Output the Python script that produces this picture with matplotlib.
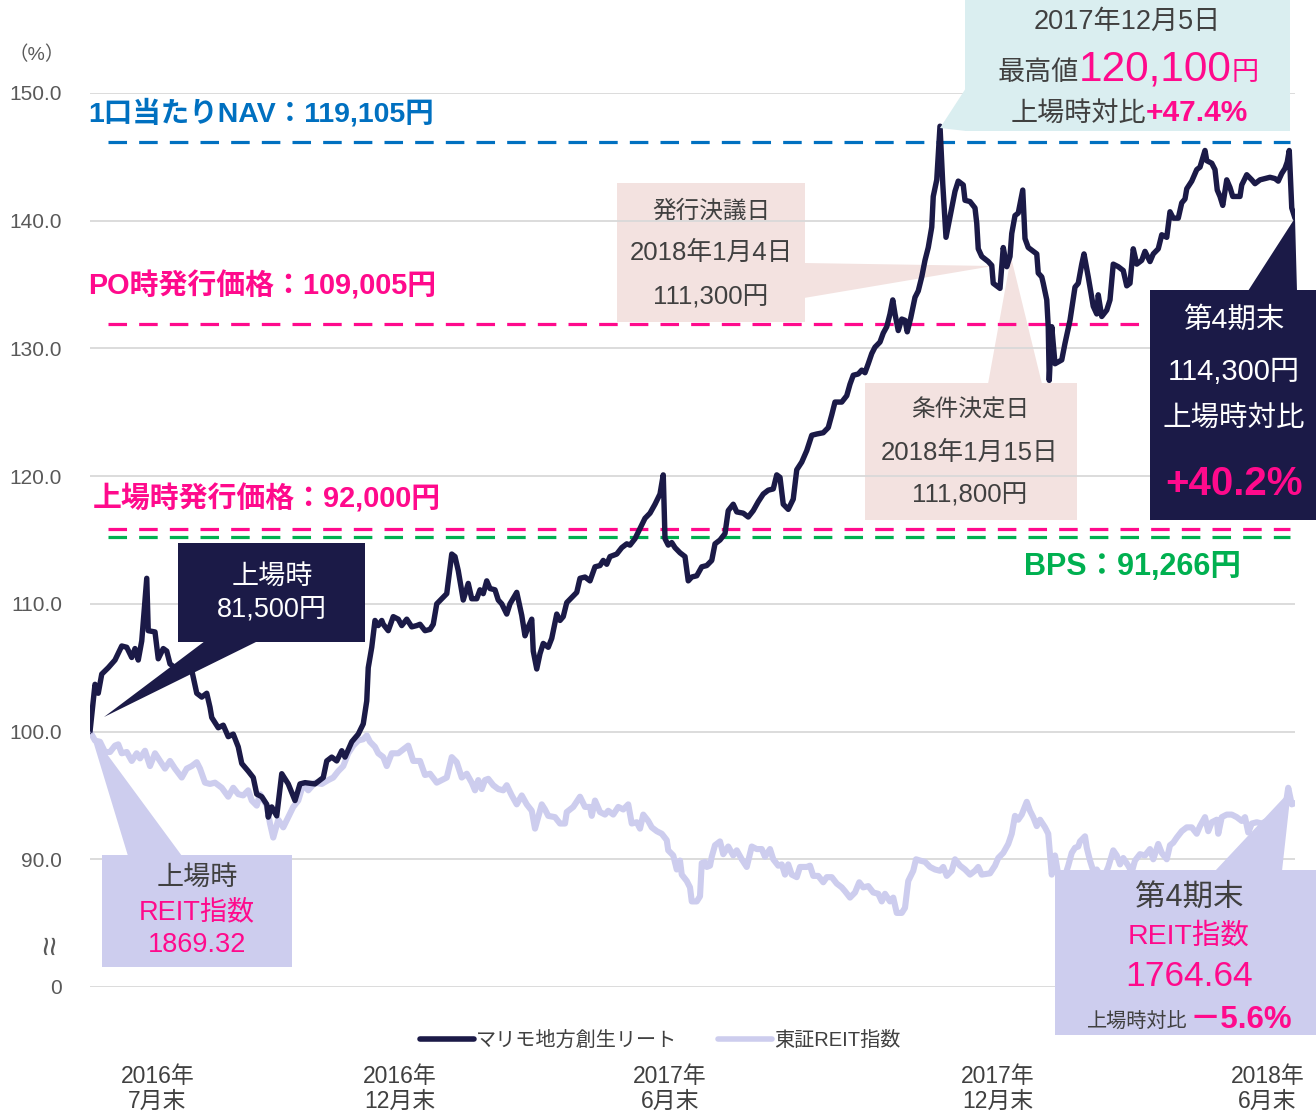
import matplotlib
matplotlib.use('Agg')
import matplotlib.pyplot as plt
from matplotlib.patches import Rectangle, Polygon
from matplotlib.lines import Line2D

W, H = 1316, 1114
plt.rcParams['font.family'] = ['Liberation Sans', 'Noto Sans CJK JP', 'DejaVu Sans']

# ---------------- data (index: 100 = listing day) ----------------
marimo_day = [0.0, 2.0, 3.3, 4.7, 7.3, 10.0, 12.7, 14.7, 16.7, 18.0, 19.3, 20.7, 22.7, 23.3, 26.0, 27.3,
              29.3, 30.7, 32.0, 34.0, 38.0, 40.7, 42.7, 44.7, 46.7, 48.0, 48.7, 51.3, 53.3, 55.3, 57.3,
              59.3, 60.7, 63.3, 65.3, 66.7, 68.7, 70.7, 71.3, 72.7, 74.7, 76.7, 79.3, 82.0, 84.0, 86.0,
              90.0, 93.3, 94.7, 96.7, 98.7, 100.7, 102.0, 104.7, 107.3, 109.3, 110.7, 111.3, 112.7, 114.0,
              115.3, 116.7, 117.3, 119.3, 121.3, 123.3, 124.7, 126.7, 128.7, 130.7, 132.0, 134.0, 136.0,
              137.3, 138.7, 140.7, 142.7, 144.7, 146.0, 147.3, 149.3, 151.3, 152.7, 154.7, 156.0, 157.3,
              158.7, 160.0, 162.0, 163.3, 164.7, 166.7, 168.0, 170.7, 172.7, 174.0, 175.3, 176.7, 177.3,
              178.7, 180.0, 181.3, 183.3, 184.7, 186.7, 188.0, 189.3, 190.7, 192.7, 194.7, 196.0, 198.0,
              200.0, 202.0, 204.0, 205.3, 206.7, 208.0, 210.7, 212.7, 214.7, 216.0, 218.0, 220.0, 222.0,
              224.0, 226.0, 228.0, 229.3, 230.0, 231.3, 232.7, 234.0, 236.0, 238.0, 239.3, 240.7, 242.7,
              244.7, 246.7, 248.7, 250.0, 252.0, 254.0, 255.3, 257.3, 258.7, 261.3, 263.3, 265.3, 267.3,
              269.3, 271.3, 273.3, 274.7, 276.0, 277.3, 279.3, 281.3, 282.7, 284.7, 286.7, 288.7, 290.7,
              293.3, 295.3, 296.7, 298.0, 300.7, 302.7, 304.0, 305.3, 307.3, 308.7, 310.0, 311.3, 312.7,
              314.0, 316.0, 317.3, 318.7, 320.0, 321.1, 322.0, 323.3, 324.7, 326.0, 326.9, 328.3, 330.0,
              331.3, 332.7, 334.0, 335.3, 336.7, 337.3, 338.7, 340.0, 341.1, 342.4, 344.0, 346.0, 347.3,
              349.3, 350.0, 352.0, 354.0, 354.7, 355.3, 356.7, 359.3, 360.7, 361.3, 364.0, 365.3, 366.7,
              368.0, 368.7, 370.0, 371.3, 373.1, 374.0, 375.3, 377.3, 378.7, 379.3, 380.7, 381.3, 382.7,
              383.3, 383.7, 384.7, 386.0, 388.7, 390.0, 392.0, 394.0, 395.3, 396.7, 397.6, 399.3, 401.3,
              402.7, 403.3, 404.7, 406.7, 408.0, 409.3, 411.3, 413.3, 414.7, 416.0, 417.3, 418.7, 420.7,
              422.0, 424.0, 425.3, 427.3, 428.7, 430.7, 432.0, 433.3, 435.3, 436.7, 438.0, 438.7, 440.7,
              442.7, 444.0, 446.0, 446.7, 448.7, 450.0, 450.9, 452.0, 453.1, 454.7, 456.0, 457.1, 460.0,
              460.7, 462.7, 464.7, 466.0, 468.0, 470.0, 472.0, 474.0, 475.3, 476.7, 478.0, 478.9, 479.7,
              480.7, 482.0]
marimo_val = [100.0, 103.7, 103.0, 104.5, 105.0, 105.6, 106.7, 106.6, 105.8, 106.5, 105.6, 107.1, 112.0, 107.9, 107.8, 105.7,
              106.5, 106.3, 105.3, 105.0, 105.0, 104.8, 103.0, 102.7, 103.0, 101.9, 101.1, 100.3, 100.5, 99.6, 99.8,
              98.8, 97.5, 96.9, 96.4, 95.1, 94.9, 94.3, 93.3, 94.1, 93.4, 96.7, 95.9, 94.6, 95.9, 96.0,
              95.9, 96.4, 97.7, 98.0, 97.7, 98.5, 98.0, 99.2, 99.8, 100.6, 102.4, 105.0, 106.6, 108.7,
              108.3, 108.7, 108.4, 107.9, 109.0, 108.8, 108.3, 108.8, 108.2, 108.3, 108.4, 107.9, 108.0,
              108.4, 110.0, 110.4, 110.8, 113.9, 113.7, 112.6, 110.3, 111.6, 110.4, 110.4, 111.1, 110.8,
              111.8, 111.2, 111.1, 110.3, 110.0, 109.2, 110.0, 110.9, 109.1, 107.5, 108.2, 108.8, 106.3,
              104.9, 106.1, 106.9, 106.6, 107.3, 109.2, 108.7, 109.0, 110.1, 110.5, 110.9, 112.0, 112.1,
              111.8, 112.9, 113.0, 113.4, 113.1, 113.7, 113.9, 114.4, 114.7, 114.6, 115.1, 115.9, 116.7,
              117.1, 117.8, 118.6, 120.1, 115.1, 114.6, 114.8, 114.4, 114.0, 113.7, 111.8, 112.1, 112.2,
              112.9, 113.0, 113.4, 114.7, 115.0, 115.5, 117.3, 117.8, 117.2, 117.1, 116.8, 117.3, 118.0,
              118.6, 118.9, 119.0, 120.1, 119.9, 117.8, 117.4, 118.2, 120.5, 121.1, 122.0, 123.2, 123.3,
              123.4, 123.8, 124.8, 125.8, 125.8, 126.3, 127.2, 127.9, 128.0, 128.3, 128.1, 128.8, 129.6,
              130.1, 130.5, 131.2, 131.7, 132.7, 133.8, 132.7, 131.4, 132.3, 132.2, 131.3, 132.4, 134.0,
              134.5, 135.6, 136.9, 137.9, 139.5, 141.9, 143.2, 147.4, 142.9, 138.7, 140.3, 142.3, 143.1,
              142.8, 141.6, 141.5, 141.0, 139.8, 137.8, 137.2, 136.8, 136.5, 135.1, 134.7, 137.9, 136.4,
              137.2, 139.0, 140.4, 140.6, 142.4, 138.6, 137.9, 137.6, 137.4, 135.9, 135.6, 135.1, 133.8,
              131.7, 127.5, 131.7, 128.8, 129.1, 130.4, 132.2, 134.8, 135.1, 136.6, 137.4, 135.6, 133.3,
              132.7, 134.2, 132.5, 133.0, 133.8, 136.6, 136.4, 136.1, 134.9, 135.1, 137.8, 136.6, 136.9,
              137.6, 136.8, 137.4, 137.8, 138.9, 138.7, 140.7, 140.2, 140.2, 141.4, 141.7, 142.5, 143.1,
              144.0, 144.2, 145.5, 144.7, 144.5, 144.0, 142.4, 141.9, 141.2, 143.2, 142.6, 141.9, 141.9,
              142.8, 143.6, 143.2, 142.9, 143.2, 143.3, 143.4, 143.3, 143.1, 143.7, 144.1, 144.6, 145.5,
              141.0, 140.2]

reit_day = [0.0, 2.0, 4.0, 6.0, 8.0, 10.0, 11.3, 12.7, 14.7, 16.7, 18.7, 20.0, 22.0, 24.0, 26.0, 28.0,
            30.0, 32.0, 34.0, 36.7, 38.7, 40.7, 42.7, 44.0, 46.0, 48.0, 50.0, 52.7, 55.3, 57.3, 59.3,
            61.3, 63.3, 64.7, 66.7, 68.0, 70.7, 72.0, 73.3, 75.3, 77.3, 79.3, 81.3, 83.3, 85.3, 87.3,
            90.0, 92.7, 95.3, 97.3, 99.3, 101.3, 103.3, 105.3, 107.3, 109.3, 110.7, 112.0, 114.0, 115.3,
            117.3, 118.7, 120.7, 123.3, 125.3, 127.3, 129.3, 132.0, 134.0, 136.0, 138.7, 140.7, 142.7,
            144.7, 146.7, 148.7, 150.7, 152.7, 154.0, 155.3, 156.7, 158.0, 159.3, 161.3, 163.3, 165.3,
            166.7, 168.7, 170.7, 172.7, 174.7, 176.7, 178.0, 179.3, 180.7, 182.0, 183.3, 186.0, 188.0,
            190.0, 190.7, 193.3, 196.0, 198.0, 200.0, 200.7, 202.0, 204.0, 206.0, 207.3, 209.3, 211.3,
            213.3, 215.3, 216.7, 218.7, 220.0, 221.3, 223.3, 224.7, 226.7, 228.7, 230.7, 231.3, 233.3,
            234.7, 236.0, 236.7, 238.7, 240.0, 240.7, 242.7, 244.0, 244.7, 246.0, 246.7, 248.0, 248.7,
            250.0, 252.0, 253.3, 255.3, 257.3, 258.7, 260.7, 262.7, 264.7, 266.7, 268.7, 270.0, 272.0,
            273.3, 275.3, 276.7, 278.0, 279.3, 280.7, 282.7, 284.0, 286.7, 288.0, 289.3, 291.3, 293.3,
            294.7, 296.7, 298.7, 300.7, 302.0, 304.0, 306.0, 307.7, 309.3, 311.3, 313.3, 315.3, 316.7,
            318.0, 320.0, 321.3, 322.7, 324.7, 326.0, 327.3, 329.3, 330.4, 332.0, 334.0, 336.0, 338.0,
            340.0, 341.3, 342.7, 344.7, 346.0, 348.0, 350.0, 352.0, 354.0, 355.3, 356.7, 360.0, 362.0,
            363.3, 365.3, 367.3, 368.7, 370.0, 371.3, 372.7, 374.7, 376.0, 377.3, 378.7, 380.0, 382.0,
            383.3, 384.0, 384.7, 386.0, 387.3, 390.0, 391.3, 392.7, 394.0, 395.3, 396.0, 398.0, 398.7,
            400.0, 401.3, 402.7, 404.0, 406.0, 407.3, 409.3, 410.7, 412.0, 413.3, 415.3, 416.7, 418.0,
            420.0, 422.0, 424.0, 425.3, 427.3, 428.7, 430.7, 432.0, 433.3, 434.7, 436.7, 438.7, 440.7,
            442.7, 444.0, 446.0, 447.3, 448.7, 450.7, 451.3, 452.7, 454.7, 456.7, 458.7, 460.7, 462.0,
            463.3, 464.7, 466.7, 468.7, 470.7, 472.7, 474.7, 476.7, 478.0, 479.3, 480.7, 482.0]
reit_val = [100.0, 99.3, 99.2, 98.4, 98.4, 98.9, 99.0, 98.3, 98.4, 97.7, 98.3, 97.9, 98.5, 97.3, 98.3, 97.7,
            97.1, 97.7, 97.1, 96.4, 97.1, 97.3, 97.6, 97.1, 96.0, 95.9, 96.0, 95.6, 94.9, 95.6, 95.1,
            95.0, 95.4, 94.6, 94.2, 95.1, 94.2, 92.8, 91.7, 93.1, 92.5, 93.3, 94.1, 94.6, 95.9, 95.4,
            96.0, 95.9, 96.2, 96.4, 96.9, 97.3, 98.3, 98.9, 99.3, 99.4, 99.7, 99.2, 98.8, 98.3,
            98.0, 97.3, 98.3, 98.3, 98.6, 98.9, 97.7, 97.7, 96.6, 96.7, 96.0, 96.2, 96.4,
            98.0, 97.6, 96.4, 96.7, 96.0, 95.4, 96.2, 95.5, 96.2, 96.3, 95.8, 95.5, 95.4,
            95.8, 95.0, 94.3, 95.0, 94.3, 93.8, 92.4, 93.3, 94.3, 93.9, 93.4, 93.3, 92.8,
            92.8, 93.7, 94.1, 94.9, 94.1, 94.1, 93.4, 94.6, 93.7, 93.5, 93.8, 93.5, 94.1,
            93.9, 94.3, 92.8, 92.9, 92.4, 93.5, 93.0, 92.5, 92.2, 92.0, 91.5, 90.7, 90.3,
            89.2, 89.9, 88.8, 88.3, 87.8, 86.7, 86.7, 87.1, 89.7, 89.8, 89.4, 89.5, 90.2,
            91.1, 91.4, 90.4, 91.0, 90.3, 90.7, 90.0, 89.4, 91.0, 90.8, 90.8, 90.2, 90.8,
            90.0, 89.5, 89.6, 88.8, 89.6, 88.8, 88.6, 89.4, 89.4, 89.5, 88.7, 88.7, 88.2,
            88.6, 88.6, 88.1, 87.8, 87.5, 87.0, 87.4, 88.2, 87.8, 87.9, 87.4, 87.3, 86.7,
            87.3, 86.7, 87.0, 85.8, 85.8, 86.2, 88.3, 89.1, 90.0, 89.9, 89.8, 89.4, 89.2,
            89.1, 89.4, 88.7, 89.1, 90.0, 89.5, 89.2, 88.8, 89.1, 89.4, 88.8, 88.9, 89.5,
            90.1, 90.5, 91.2, 92.0, 93.4, 93.1, 93.5, 94.5, 93.8, 93.3, 92.6, 93.1, 92.5,
            92.0, 90.4, 88.8, 90.3, 88.8, 88.7, 89.5, 90.5, 90.9, 91.0, 91.4, 91.8, 90.9,
            89.9, 89.1, 89.2, 88.8, 88.8, 89.4, 90.7, 90.3, 89.6, 90.1, 89.5, 89.0, 89.9,
            90.4, 90.3, 90.8, 90.0, 91.2, 90.5, 90.0, 91.1, 91.3, 91.7, 92.2, 92.5, 92.5,
            92.0, 92.6, 93.3, 92.2, 92.9, 93.1, 92.0, 93.3, 93.5, 93.5, 93.3, 93.0, 93.3,
            92.1, 92.8, 92.9, 92.8, 93.0, 93.0, 93.1, 94.0, 93.9, 95.6, 94.3, 94.4]

series_names = ['マリモ地方創生リート', '東証REIT指数']

# reference price levels (as drawn, index units)
ref_nav, ref_po, ref_ipo, ref_bps = 146.2, 131.9, 115.9, 115.2
ref_labels = ['1口当たりNAV：119,105円', 'PO時発行価格：109,005円',
              '上場時発行価格：92,000円', 'BPS：91,266円']

y_ticks = [80, 90, 100, 110, 120, 130, 140, 150]
y_tick_labels = ['0', '90.0', '100.0', '110.0', '120.0', '130.0', '140.0', '150.0']
x_tick_days = [27, 124, 232, 363, 471]
x_tick_labels = ['2016年\n7月末', '2016年\n12月末', '2017年\n6月末', '2017年\n12月末', '2018年\n6月末']

# ---------------- styling ----------------
NAVY = '#1B1A47'
LILAC = '#CDCDEE'
PINK = '#FF0A8C'
BLUE = '#0070C0'
GREEN = '#00B050'
GRAY = '#404040'
TICK = '#595959'
CYANBOX = '#DAEEF0'
PINKBOX = '#F3E2E0'

fig = plt.figure(figsize=(W / 100, H / 100), dpi=100)
ax = fig.add_axes([90 / W, (H - 987) / H, 1205 / W, 894 / H])
ax.set_xlim(0, 482)
ax.set_ylim(80, 150)
for s in ax.spines.values():
    s.set_visible(False)
ax.set_yticks(y_ticks)
ax.set_yticklabels(y_tick_labels)
ax.tick_params(axis='y', length=0, pad=20, labelsize=15, labelcolor=TICK)
ax.set_xticks(x_tick_days)
ax.set_xticklabels(x_tick_labels, linespacing=1.1)
ax.tick_params(axis='x', length=0, pad=56, labelsize=16.5, labelcolor=GRAY)
ax.grid(axis='y', color='#D9D9D9', lw=1.3, zorder=0)
ax.set_axisbelow(True)


def F(px, py):
    return (px / W, 1 - py / H)


# reference dashed lines
dash = dict(lw=2.3, dashes=(5.8, 3.8), zorder=2)
ax.plot([7.2, 480], [ref_nav, ref_nav], color=BLUE, **dash)
ax.plot([7.2, 423], [ref_po, ref_po], color=PINK, **dash)
ax.plot([7.2, 480], [ref_ipo, ref_ipo], color=PINK, **dash)
ax.plot([7.2, 480], [ref_bps, ref_bps], color=GREEN, **dash)

# series
ax.plot(reit_day, reit_val, color=LILAC, lw=4.4, zorder=4, solid_joinstyle='round', solid_capstyle='round')
ax.plot(marimo_day, marimo_val, color=NAVY, lw=3.9, zorder=5, solid_joinstyle='round', solid_capstyle='round')

# reference labels
fig.text(*F(88, 113), ref_labels[0], color=BLUE, fontsize=20.5, fontweight='bold', va='center', ha='left')
fig.text(*F(88, 286), ref_labels[1], color=PINK, fontsize=20.8, fontweight='bold', va='center', ha='left')
fig.text(*F(93, 499), ref_labels[2], color=PINK, fontsize=20.8, fontweight='bold', va='center', ha='left')
fig.text(*F(1024, 567), ref_labels[3], color=GREEN, fontsize=22, fontweight='bold', va='center', ha='left')

# axis extras
fig.text(*F(37, 55), '（%）', color=TICK, fontsize=14, ha='center', va='center')
fig.text(*F(51, 945), '≈', color=TICK, fontsize=25, ha='center', va='center', rotation=90)


def box(x0, y0, x1, y1, color, z):
    (fx0, fy1) = F(x0, y0)
    (fx1, fy0) = F(x1, y1)
    fig.patches.append(Rectangle((fx0, fy0), fx1 - fx0, fy1 - fy0, transform=fig.transFigure,
                                 facecolor=color, edgecolor='none', zorder=z))


def tri(pts, color, z):
    fig.patches.append(Polygon([F(*p) for p in pts], closed=True, transform=fig.transFigure,
                               facecolor=color, edgecolor='none', zorder=z))


ax.set_zorder(1)
ax.patch.set_visible(False)

# listing callout (navy)
box(178, 543, 365, 642, NAVY, 3)
tri([(205, 641), (258, 641), (104, 717)], NAVY, 3)
fig.text(*F(272, 577), '上場時', color='white', fontsize=19.5, ha='center', va='center', zorder=4)
fig.text(*F(272, 610), '81,500円', color='white', fontsize=19.5, ha='center', va='center', zorder=4)

# listing REIT callout (lilac)
box(102, 855, 292, 967, LILAC, 3)
tri([(128, 856), (182, 856), (90, 731)], LILAC, 3)
fig.text(*F(197, 878), '上場時', color=GRAY, fontsize=19.5, ha='center', va='center', zorder=4)
fig.text(*F(197, 912), 'REIT指数', color=PINK, fontsize=19.5, ha='center', va='center', zorder=4)
fig.text(*F(197, 945), '1869.32', color=PINK, fontsize=19.5, ha='center', va='center', zorder=4)

# peak callout (cyan)
box(965, 0, 1290, 131, CYANBOX, 3)
tri([(966, 88), (966, 131), (940, 128)], CYANBOX, 3)
fig.text(*F(1127, 22), '2017年12月5日', color=GRAY, fontsize=19.5, ha='center', va='center', zorder=4)
fig.text(*F(1079, 80), '最高値', color=GRAY, fontsize=19.5, ha='right', va='baseline', zorder=4)
fig.text(*F(1079, 80), '120,100', color=PINK, fontsize=30.5, ha='left', va='baseline', zorder=4)
fig.text(*F(1232, 80), '円', color=PINK, fontsize=19.5, ha='left', va='baseline', zorder=4)
fig.text(*F(1146, 121), '上場時対比', color=GRAY, fontsize=19.5, ha='right', va='baseline', zorder=4)
fig.text(*F(1146, 121), '+47.4%', color=PINK, fontsize=21.5, fontweight='bold', ha='left', va='baseline', zorder=4)

# resolution date callout
box(617, 183, 805, 322, PINKBOX, 0.5)
tri([(804, 263), (804, 298), (993, 266)], PINKBOX, 0.5)
fig.text(*F(711, 211), '発行決議日', color=GRAY, fontsize=17, ha='center', va='center', zorder=0.6)
fig.text(*F(711, 253), '2018年1月4日', color=GRAY, fontsize=18.5, ha='center', va='center', zorder=0.6)
fig.text(*F(711, 297), '111,300円', color=GRAY, fontsize=18.5, ha='center', va='center', zorder=0.6)

# pricing date callout
box(865, 383, 1077, 520, PINKBOX, 0.5)
tri([(988, 384), (1042, 384), (1011, 257)], PINKBOX, 0.5)
fig.text(*F(970, 410), '条件決定日', color=GRAY, fontsize=17, ha='center', va='center', zorder=0.6)
fig.text(*F(970, 453), '2018年1月15日', color=GRAY, fontsize=18.5, ha='center', va='center', zorder=0.6)
fig.text(*F(970, 496), '111,800円', color=GRAY, fontsize=18.5, ha='center', va='center', zorder=0.6)

# period end callout (navy)
box(1150, 290, 1316, 520, NAVY, 3)
tri([(1248, 291), (1297, 291), (1295, 218)], NAVY, 3)
fig.text(*F(1234, 320), '第4期末', color='white', fontsize=20.5, ha='center', va='center', zorder=4)
fig.text(*F(1234, 372), '114,300円', color='white', fontsize=21, ha='center', va='center', zorder=4)
fig.text(*F(1234, 420), '上場時対比', color='white', fontsize=20.5, ha='center', va='center', zorder=4)
fig.text(*F(1234, 484), '+40.2%', color=PINK, fontsize=29, fontweight='bold', ha='center', va='center', zorder=4)

# period end REIT callout (lilac)
box(1055, 870, 1316, 1035, LILAC, 3)
tri([(1215, 871), (1282, 871), (1291, 790)], LILAC, 3)
fig.text(*F(1189, 898), '第4期末', color=GRAY, fontsize=22, ha='center', va='center', zorder=4)
fig.text(*F(1189, 936), 'REIT指数', color=PINK, fontsize=20.5, ha='center', va='center', zorder=4)
fig.text(*F(1189, 977), '1764.64', color=PINK, fontsize=25.5, ha='center', va='center', zorder=4)
fig.text(*F(1188, 1028), '上場時対比', color=GRAY, fontsize=14.5, ha='right', va='baseline', zorder=4)
fig.text(*F(1190, 1028), '－5.6%', color=PINK, fontsize=22.5, fontweight='bold', ha='left', va='baseline', zorder=4)

# legend
handles = [Line2D([], [], color=NAVY, lw=4.0, solid_capstyle='round'),
           Line2D([], [], color=LILAC, lw=4.0, solid_capstyle='round')]
leg = ax.legend(handles, series_names, loc='center', bbox_to_anchor=((660 - 90) / 1205, (987 - 1040) / 894),
                ncol=2, frameon=False, fontsize=14.5, handlelength=2.7, handletextpad=0.1,
                columnspacing=2.0, labelcolor=GRAY)

fig.savefig('out.png', dpi=100)
